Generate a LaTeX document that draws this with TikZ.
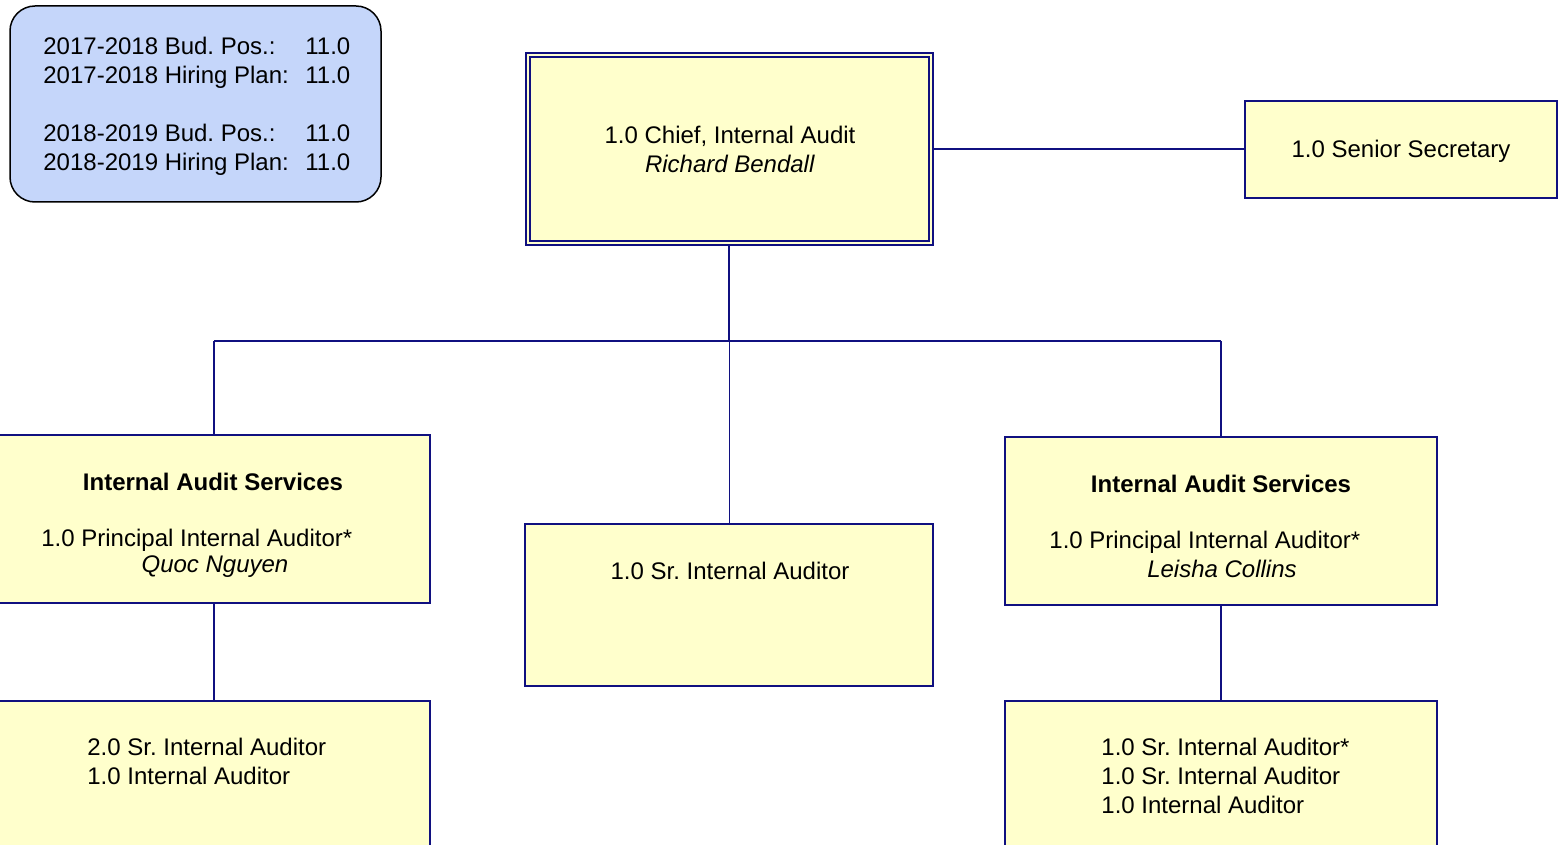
\documentclass[tikz,border=0pt]{standalone}
\usepackage{fontspec}
\setmainfont{Liberation Sans}
\frenchspacing
\usetikzlibrary{backgrounds}
\definecolor{boxline}{RGB}{16,16,128}
\definecolor{boxfill}{RGB}{255,255,204}
\definecolor{notefill}{RGB}{197,214,250}
\begin{document}
\begin{tikzpicture}[x=0.5pt,y=-0.5pt,
  every node/.style={font=\fontsize{12}{14.5}\selectfont, inner sep=0pt},
  unit/.style={draw=boxline, fill=boxfill, line width=1pt, rectangle},
  link/.style={draw=boxline, line width=1pt},
  thinlink/.style={draw=boxline, line width=0.5pt},
  lbl/.style={align=center},
  lftlbl/.style={align=left, anchor=west}]
\useasboundingbox (0,0) rectangle (1558,845);

% position summary
\node[draw=black, line width=0.75pt, fill=notefill, rounded corners=12.5pt,
      minimum width=185.5pt, minimum height=98pt] (budget) at (195.5,104) {};
\node[lftlbl] (budgettext) at (43,106)
  {\makebox[131pt][l]{2017-2018 Bud. Pos.:}11.0\\
   \makebox[131pt][l]{2017-2018 Hiring Plan:}11.0\\[14.5pt]
   \makebox[131pt][l]{2018-2019 Bud. Pos.:}11.0\\
   \makebox[131pt][l]{2018-2019 Hiring Plan:}11.0};

% chief
\node[unit, double=boxfill, double distance=1pt,
      minimum width=201.5pt, minimum height=94pt] (chief) at (729,149.5) {};
\node[lbl] (chieftext) at (730,149.5) {1.0 Chief, Internal Audit\\\textit{Richard Bendall}};

% secretary
\node[unit, minimum width=156pt, minimum height=48.5pt] (sec) at (1401,149.5) {};
\node[lbl] (sectext) at (1401,151) {1.0 Senior Secretary};

% second level
\node[unit, minimum width=220pt, minimum height=84pt] (iasA) at (210,519) {};
\node[lbl] (iasAtitle) at (213,482) {\textbf{Internal Audit Services}};
\node[lftlbl] (iasApos) at (41,540) {1.0 Principal Internal Auditor*};
\node[lbl] (iasAname) at (215,567) {\textit{Quoc Nguyen}};

\node[unit, minimum width=204pt, minimum height=81pt] (sria) at (729,605) {};
\node[lbl] (sriatext) at (730,571) {1.0 Sr. Internal Auditor};

\node[unit, minimum width=216pt, minimum height=84pt] (iasB) at (1221,521) {};
\node[lbl] (iasBtitle) at (1221,484) {\textbf{Internal Audit Services}};
\node[lftlbl] (iasBpos) at (1049,542) {1.0 Principal Internal Auditor*};
\node[lbl] (iasBname) at (1222,569) {\textit{Leisha Collins}};

% third level
\node[unit, minimum width=220pt, minimum height=79.5pt] (teamA) at (210,780.5) {};
\node[lftlbl] (teamAtext) at (87,761.5) {2.0 Sr. Internal Auditor\\1.0 Internal Auditor};

\node[unit, minimum width=216pt, minimum height=79.5pt] (teamB) at (1221,780.5) {};
\node[lftlbl] (teamBtext) at (1101,776)
  {1.0 Sr. Internal Auditor*\\1.0 Sr. Internal Auditor\\1.0 Internal Auditor};

% reporting lines
\coordinate (hub) at (729,341);
\coordinate (busL) at (214,341);
\coordinate (busR) at (1221,341);
\begin{scope}[on background layer]
  \draw[link] (chief.east) -- (sec.west);
  \draw[link] (chief.south) -- (hub);
  \draw[link] (busL) -- (busR);
  \draw[link] (busL) -- (busL |- iasA.north);
  \draw[link] (busR) -- (iasB.north);
  \draw[thinlink] (hub) -- (sria.north);
  \draw[link] (busL |- iasA.south) -- (busL |- teamA.north);
  \draw[link] (iasB.south) -- (teamB.north);
\end{scope}
\end{tikzpicture}
\end{document}
